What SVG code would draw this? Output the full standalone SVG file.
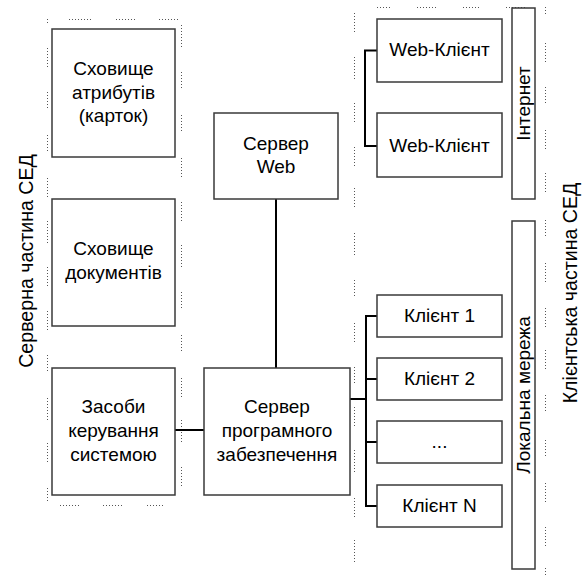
<svg xmlns="http://www.w3.org/2000/svg" width="584" height="575" viewBox="0 0 584 575">
<style>
.box{fill:#fff;stroke:#3a3a3a;stroke-width:1.5}
.t{font-family:"Liberation Sans",Arial,sans-serif;font-size:19px;fill:#000;text-anchor:middle}
.side{font-size:19.6px}
.con{stroke:#000;stroke-width:2;fill:none}
.dot{stroke:#555;stroke-width:1;stroke-dasharray:1 2;fill:none}
</style>
<rect width="584" height="575" fill="#fff"/>
<g id="guides">
<path class="dot" d="M69 19.5H92M116 19.5H136M159 19.5H178"/>
<path class="dot" d="M377 7.5H392M417 7.5H437M463 7.5H480M506 7.5H525"/>
<path class="dot" d="M60 505.5H79M103 505.5H122M147 505.5H165"/>
<path class="dot" d="M47.5 19V25M47.5 48V67M47.5 92V110M47.5 135V153M47.5 178V199M47.5 221V243M47.5 267V287M47.5 311V330M47.5 355V373M47.5 398V420M47.5 443V463M47.5 488V503"/>
<path class="dot" d="M181.5 25V47M181.5 72V90M181.5 115V133M181.5 158V177M181.5 202V221M181.5 245V267M181.5 292V310M181.5 335V353M181.5 378V397M181.5 420V443M181.5 467V487"/>
<path class="dot" d="M354.5 13V33M354.5 57V80M354.5 103V123M354.5 147V167M354.5 188V208M354.5 233V255M354.5 280V298M354.5 323V342M354.5 367V385M354.5 407V428M354.5 450V472M354.5 498V518M354.5 540V562"/>
<path class="dot" d="M545.5 7V15M545.5 43V62M545.5 87V105M545.5 130V150M545.5 173V193M545.5 220V237M545.5 263V283M545.5 308V327M545.5 350V370M545.5 395V413M545.5 440V458M545.5 483V503M545.5 527V547M545.5 568V575"/>
</g>
<g id="connectors">
<path class="con" d="M175 430H204"/>
<path class="con" d="M276 199V368"/>
<path class="con" d="M350 399H366"/>
<path class="con" d="M377 316H366V506H377M366 379H377M366 442H377"/>
<path class="con" d="M377 50.5H365V146H377"/>
</g>
<g id="attr-store">
<rect class="box" x="52" y="29" width="123" height="128"/>
<text class="t" x="113.5" y="75">Сховище</text>
<text class="t" x="113.5" y="98.5">атрибутів</text>
<text class="t" x="113.5" y="122">(карток)</text>
</g>
<g id="doc-store">
<rect class="box" x="52" y="199" width="123" height="127"/>
<text class="t" x="113.5" y="255">Сховище</text>
<text class="t" x="113.5" y="279">документів</text>
</g>
<g id="admin-tools">
<rect class="box" x="52" y="368" width="123" height="127"/>
<text class="t" x="113.5" y="413">Засоби</text>
<text class="t" x="113.5" y="437">керування</text>
<text class="t" x="113.5" y="461">системою</text>
</g>
<g id="app-server">
<rect class="box" x="204" y="368" width="146" height="127"/>
<text class="t" x="277" y="413">Сервер</text>
<text class="t" x="277" y="437">програмного</text>
<text class="t" x="277" y="461">забезпечення</text>
</g>
<g id="web-server">
<rect class="box" x="214" y="113" width="124" height="86"/>
<text class="t" x="276" y="150">Сервер</text>
<text class="t" x="276" y="173">Web</text>
</g>
<g id="web-client-1">
<rect class="box" x="377" y="19" width="125" height="63"/>
<text class="t" x="439.5" y="56">Web-Клієнт</text>
</g>
<g id="web-client-2">
<rect class="box" x="377" y="113" width="125" height="64"/>
<text class="t" x="439.5" y="152">Web-Клієнт</text>
</g>
<g id="client-1">
<rect class="box" x="377" y="295" width="125" height="42"/>
<text class="t" x="439.5" y="322">Клієнт 1</text>
</g>
<g id="client-2">
<rect class="box" x="377" y="358" width="125" height="42"/>
<text class="t" x="439.5" y="385">Клієнт 2</text>
</g>
<g id="client-dots">
<rect class="box" x="377" y="421" width="125" height="42"/>
<text class="t" x="439.5" y="448">...</text>
</g>
<g id="client-n">
<rect class="box" x="377" y="485" width="125" height="42"/>
<text class="t" x="439.5" y="512">Клієнт N</text>
</g>
<g id="internet">
<rect class="box" x="512" y="8" width="23" height="191"/>
<text class="t" transform="translate(530 103.5) rotate(-90)">Інтернет</text>
</g>
<g id="lan">
<rect class="box" x="512" y="221" width="23" height="348"/>
<text class="t" transform="translate(530 395) rotate(-90)">Локальна мережа</text>
</g>
<g id="labels">
<text class="t side" transform="translate(33 261) rotate(-90)">Серверна частина СЕД</text>
<text class="t side" transform="translate(577 293) rotate(-90)">Клієнтська частина СЕД</text>
</g>
</svg>
